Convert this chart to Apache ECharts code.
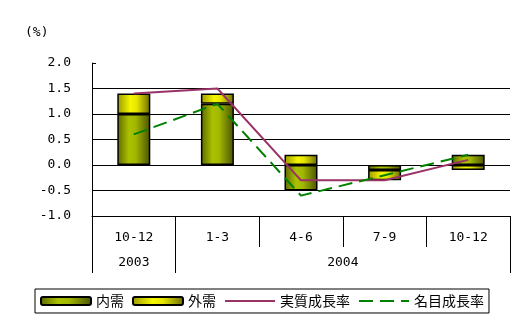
<!DOCTYPE html>
<html>
<head>
<meta charset="utf-8">
<script src="https://cdn.jsdelivr.net/npm/echarts@6/dist/echarts.min.js"></script>
<style>
html,body{margin:0;padding:0;background:#fff;}
#c{width:529px;height:320px;}
</style>
</head>
<body>
<div id="c"></div>
<script>
// ---- data ----
var categories = ['10-12', '1-3', '4-6', '7-9', '10-12'];
var years = ['2003', '2004'];
var yearSpans = [1, 4];
var domestic = [1.0, 1.2, -0.5, -0.1, 0.2];   // 内需
var external = [0.4, 0.2, 0.2, -0.2, -0.1];   // 外需
var realGrowth = [1.4, 1.5, -0.3, -0.3, 0.1]; // 実質成長率
var nominalGrowth = [0.6, 1.2, -0.6, -0.2, 0.2]; // 名目成長率
var seriesNames = ['内需', '外需', '実質成長率', '名目成長率'];
var yMin = -1.0, yMax = 2.0, yStep = 0.5;

// year axis on half-category slots: labels at group centres, ticks at group bounds
var halfSlots = [], halfBounds = [0], acc = 0;
for (var k = 0; k <= categories.length * 2; k++) halfSlots.push('');
yearSpans.forEach(function (s, i) {
  halfSlots[acc * 2 + s] = years[i];
  acc += s;
  halfBounds.push(acc * 2);
});

var mono = '"DejaVu Sans Mono", "Noto Sans CJK JP", monospace';
var cjk = '"Noto Sans CJK JP", sans-serif';

function grad(stops) {
  return new echarts.graphic.LinearGradient(0, 0, 1, 0, stops.map(function (s) { return { offset: s[0], color: s[1] }; }));
}
var domColor = grad([[0, '#5c6800'], [0.35, '#aac000'], [0.55, '#a2b800'], [1, '#4a5200']]);
var extColor = grad([[0, '#9a9a00'], [0.4, '#f6f600'], [0.6, '#e4e400'], [1, '#6a6a00']]);

var chart = echarts.init(document.getElementById('c'), null, { renderer: 'canvas' });
chart.setOption({
  backgroundColor: '#ffffff',
  animation: false,
  title: {
    text: '(%)', left: 25, top: 26, padding: 0,
    textStyle: { fontFamily: mono, fontSize: 13, fontWeight: 'normal', color: '#000' }
  },
  legend: {
    left: 35, top: 289, padding: [5, 5, 5, 5],
    borderColor: '#000', borderWidth: 1,
    itemWidth: 50, itemHeight: 8, itemGap: 8,
    textStyle: { fontFamily: cjk, fontSize: 14, color: '#000' },
    data: [
      { name: seriesNames[0] },
      { name: seriesNames[1] },
      { name: seriesNames[2], itemStyle: { opacity: 0 } },
      { name: seriesNames[3], itemStyle: { opacity: 0 } }
    ]
  },
  grid: { left: 92, right: 19, top: 63, bottom: 104, containLabel: false },
  xAxis: [{
    type: 'category', data: categories, position: 'bottom',
    axisLine: { onZero: false, lineStyle: { color: '#000', width: 1 } },
    axisTick: { show: true, interval: 0, length: 31, lineStyle: { color: '#000' } },
    axisLabel: { interval: 0, margin: 15, fontFamily: mono, fontSize: 13, color: '#000' },
    splitLine: { show: false }
  }, {
    type: 'category', data: halfSlots, boundaryGap: false, position: 'bottom',
    axisLine: { show: false, onZero: false },
    splitLine: { show: false },
    axisTick: {
      show: true, length: 57, lineStyle: { color: '#000' },
      interval: function (idx) { return halfBounds.indexOf(idx) >= 0; }
    },
    axisLabel: { interval: 0, margin: 40, fontFamily: mono, fontSize: 13, color: '#000' }
  }],
  yAxis: {
    type: 'value', min: yMin, max: yMax, interval: yStep,
    axisLine: { show: true, lineStyle: { color: '#000' } },
    axisTick: { show: true, inside: true, length: 4, lineStyle: { color: '#000' } },
    axisLabel: { margin: 21, fontFamily: mono, fontSize: 13, color: '#000', formatter: function (v) { return v.toFixed(1); } },
    splitLine: { show: true, showMaxLine: false, lineStyle: { color: '#000', width: 1 } }
  },
  series: [{
    name: seriesNames[0], type: 'bar', stack: 'd', data: domestic, barWidth: 33,
    itemStyle: { color: domColor, borderColor: '#000', borderWidth: 1.5 }
  }, {
    name: seriesNames[1], type: 'bar', stack: 'd', data: external, barWidth: 33,
    itemStyle: { color: extColor, borderColor: '#000', borderWidth: 1.5 }
  }, {
    name: seriesNames[2], type: 'line', data: realGrowth, symbol: 'none', z: 5,
    itemStyle: { color: '#993366' },
    lineStyle: { color: '#993366', width: 2 }
  }, {
    name: seriesNames[3], type: 'line', data: nominalGrowth, symbol: 'none', z: 6,
    itemStyle: { color: '#008000' },
    lineStyle: { color: '#008000', width: 2, type: [14, 7] }
  }]
});
</script>
</body>
</html>
